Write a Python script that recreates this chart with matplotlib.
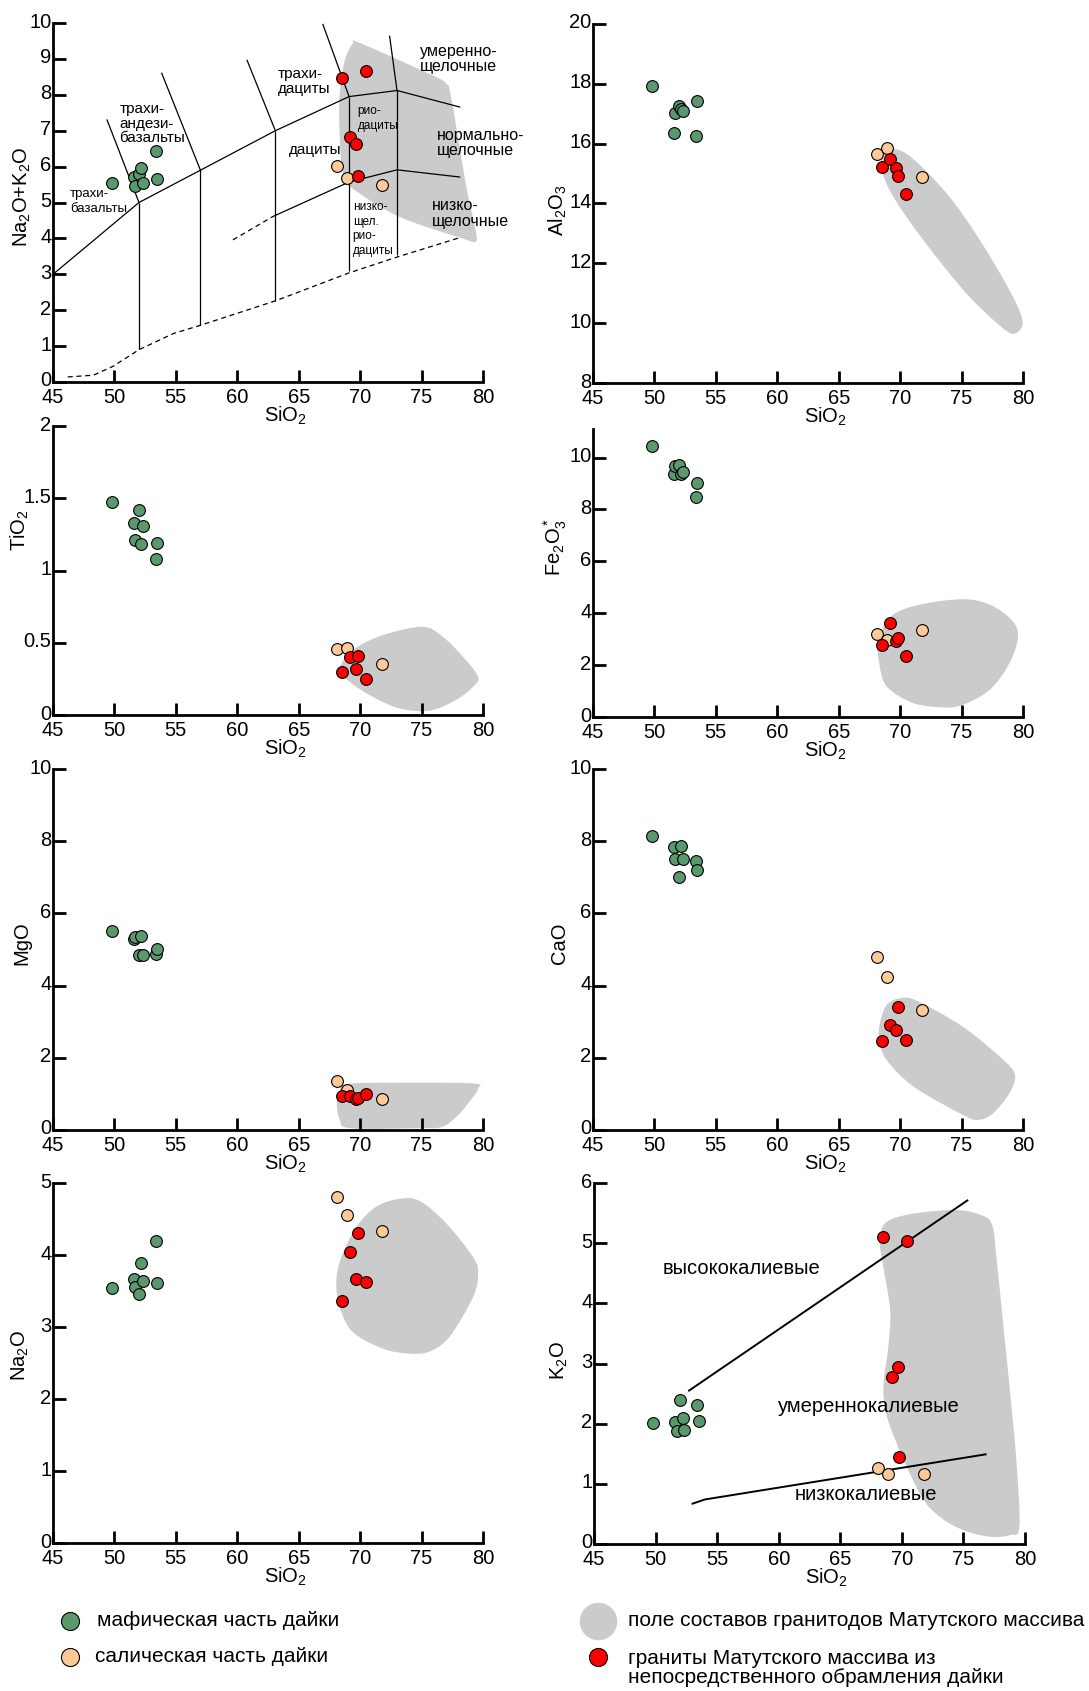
import numpy as np
import matplotlib
matplotlib.use('Agg')
import matplotlib.pyplot as plt
from matplotlib.path import Path
from matplotlib.patches import PathPatch
from matplotlib.ticker import FuncFormatter
from matplotlib.transforms import ScaledTranslation

plt.rcParams['font.family'] = ['Liberation Sans', 'DejaVu Sans']
plt.rcParams['mathtext.default'] = 'regular'

# --- samples (SiO2 on x) ---
mafic_sio2 = [49.8, 51.6, 51.7, 52.0, 52.2, 52.3, 53.35, 53.5]
salic_sio2 = [68.1, 68.9, 71.8]
granite_sio2 = [68.5, 69.2, 69.65, 69.8, 70.45]

mafic_alk = [5.53, 5.71, 5.45, 5.78, 5.96, 5.55, 6.43, 5.65]
salic_alk = [6.02, 5.67, 5.48]
granite_alk = [8.46, 6.82, 6.62, 5.74, 8.65]

mafic_al2o3 = [17.93, 16.35, 17.04, 17.26, 17.15, 17.10, 16.24, 17.43]
salic_al2o3 = [15.64, 15.84, 14.89]
granite_al2o3 = [15.22, 15.49, 15.20, 14.93, 14.31]

mafic_tio2 = [1.475, 1.33, 1.21, 1.42, 1.18, 1.31, 1.08, 1.19]
salic_tio2 = [0.456, 0.463, 0.353]
granite_tio2 = [0.30, 0.40, 0.32, 0.41, 0.25]

mafic_fe2o3 = [10.45, 9.35, 9.69, 9.72, 9.37, 9.46, 8.49, 9.01]
salic_fe2o3 = [3.20, 2.95, 3.34]
granite_fe2o3 = [2.79, 3.63, 2.91, 3.04, 2.37]

mafic_mgo = [5.51, 5.28, 5.34, 4.85, 5.37, 4.86, 4.88, 5.02]
salic_mgo = [1.36, 1.11, 0.87]
granite_mgo = [0.94, 0.95, 0.85, 0.90, 0.99]

mafic_cao = [8.14, 7.84, 7.52, 7.02, 7.86, 7.52, 7.45, 7.21]
salic_cao = [4.78, 4.24, 3.32]
granite_cao = [2.47, 2.91, 2.77, 3.40, 2.50]

mafic_na2o = [3.54, 3.66, 3.55, 3.46, 3.89, 3.64, 4.20, 3.61]
salic_na2o = [4.81, 4.56, 4.34]
granite_na2o = [3.36, 4.04, 3.67, 4.30, 3.62]

mafic_k2o = [2.01, 2.03, 1.88, 2.40, 2.09, 1.90, 2.31, 2.05]
salic_k2o = [1.27, 1.16, 1.17]
granite_k2o = [5.10, 2.78, 2.94, 1.44, 5.03]

# --- outline of the Matut massif field in each diagram ---
field_tas = ([69.4, 70.0, 75.9, 77.0, 77.4, 78.6, 79.45, 79.3, 78.4, 73.2, 69.4, 68.6, 68.33, 68.33, 68.75],
             [9.42, 9.44, 8.54, 8.31, 7.94, 5.52, 4.13, 3.90, 3.99, 4.60, 5.39, 5.80, 6.92, 8.03, 8.96])
field_al2o3 = ([68.63, 70.5, 73.8, 76.5, 78.9, 79.95, 79.45, 78.4, 75.4, 71.9, 69.45, 68.5, 68.5],
               [15.78, 15.67, 14.33, 12.77, 11.1, 10.1, 9.67, 9.82, 10.99, 12.77, 14.22, 15.1, 15.56])
field_tio2 = ([68.33, 69.42, 71.86, 75.1, 76.75, 78.4, 79.6, 79.2, 77.8, 75.65, 73.2, 71.0, 69.15],
              [0.32, 0.45, 0.553, 0.61, 0.54, 0.40, 0.265, 0.196, 0.104, 0.03, 0.046, 0.127, 0.23])
field_fe2o3 = ([69.3, 71.6, 75.1, 77.3, 79.05, 79.6, 78.9, 77.3, 75.1, 73.5, 71.05, 68.9, 68.3, 68.25],
               [3.9, 4.33, 4.54, 4.33, 3.75, 3.11, 2.08, 1.05, 0.47, 0.37, 0.54, 1.18, 2.08, 3.0])
field_mgo = ([68.9, 73.2, 79.2, 79.6, 79.2, 78.1, 76.7, 74.6, 69.2, 68.35, 68.1, 68.35],
             [1.27, 1.31, 1.29, 1.15, 0.92, 0.46, 0.09, 0.05, 0.05, 0.28, 0.74, 1.02])
field_cao = ([68.9, 70.0, 71.35, 75.1, 78.4, 79.35, 78.9, 77.55, 76.35, 75.1, 71.1, 68.9, 68.3, 68.35],
             [3.46, 3.65, 3.58, 2.86, 1.94, 1.52, 1.02, 0.46, 0.28, 0.42, 1.20, 1.94, 2.49, 2.95])
field_na2o = ([68.06, 68.47, 69.7, 71.3, 73.2, 74.85, 77.0, 79.2, 79.6, 79.2, 77.3, 75.65, 74.0, 71.85, 69.4, 68.33],
              [3.63, 3.97, 4.39, 4.67, 4.78, 4.75, 4.44, 3.97, 3.74, 3.42, 2.87, 2.66, 2.63, 2.70, 2.93, 3.28])
field_k2o = ([68.2, 68.75, 70.9, 74.2, 76.1, 77.3, 77.7, 78.25, 78.8, 79.3, 79.55, 78.8, 77.15, 75.0, 73.1, 71.45, 69.05, 68.5, 68.9, 69.05, 68.5],
             [5.05, 5.35, 5.49, 5.55, 5.49, 5.32, 4.72, 3.61, 2.50, 1.39, 0.29, 0.15, 0.12, 0.23, 0.45, 0.84, 1.95, 2.56, 3.28, 3.88, 4.60])

# --- TAS classification lines ---
tas_upper_x = [45, 52, 57, 63.1, 69.1, 73, 78.1]
tas_upper_y = [3.0, 5.0, 5.9, 7.0, 7.95, 8.12, 7.66]
tas_top_x = [(52, 49.4), (57, 53.85), (63.1, 60.8), (69.1, 66.97), (73, 72.4)]
tas_top_y = [(5.0, 7.3), (5.9, 8.6), (7.0, 8.96), (7.95, 9.96), (8.12, 9.63)]
tas_vert_x = [52, 57, 63.1, 69.1, 73]
tas_vert_top = [5.0, 5.9, 7.0, 7.95, 8.12]
tas_vert_bot = [0.93, 1.58, 2.27, 3.1, 3.55]
tas_lower_x = [62.9, 69.1, 73, 78.1]
tas_lower_y = [4.61, 5.57, 5.91, 5.71]
tas_lower_dash_x = [59.65, 62.9]
tas_lower_dash_y = [3.96, 4.61]
tas_bottom_x = [46.2, 48.3, 49.9, 52.0, 54.8, 57.0, 63.1, 69.1, 73.0, 78.1]
tas_bottom_y = [0.14, 0.19, 0.44, 0.90, 1.35, 1.58, 2.26, 3.04, 3.48, 4.02]

k2o_high_x = [52.72, 75.32]
k2o_high_y = [2.55, 5.71]
k2o_low_x = [53.0, 54.0, 76.8]
k2o_low_y = [0.67, 0.74, 1.49]

GREEN = '#5a986d'
PEACH = '#fdca97'
RED = '#ff0000'
GREY = '#cbcbcb'

W, H = 1089, 1691
fig = plt.figure(figsize=(W / 100, H / 100), dpi=100)


def smooth_field(xs, ys):
    pts = np.column_stack([xs, ys])
    n = len(pts)
    verts = [pts[0]]
    codes = [Path.MOVETO]
    for i in range(n):
        p0, p1, p2, p3 = pts[i - 1], pts[i], pts[(i + 1) % n], pts[(i + 2) % n]
        verts += [p1 + (p2 - p0) / 6, p2 - (p3 - p1) / 6, p2]
        codes += [Path.CURVE4] * 3
    return PathPatch(Path(verts, codes), facecolor=GREY, edgecolor='none', zorder=1)


def make_axes(l, t, r, b):
    return fig.add_axes([l / W, 1 - b / H, (r - l) / W, (b - t) / H])


def panel(box, ylabel, ylim, yticks, field, ys, ylab_y, ylab_dx):
    ax = make_axes(*box)
    ax.add_patch(smooth_field(*field))
    ax.scatter(mafic_sio2, ys[0], s=72, c=GREEN, edgecolors='black', linewidths=0.8, zorder=5)
    ax.scatter(salic_sio2, ys[1], s=72, c=PEACH, edgecolors='black', linewidths=0.8, zorder=5)
    ax.scatter(granite_sio2, ys[2], s=72, c=RED, edgecolors='black', linewidths=0.8, zorder=6)
    ax.set_xlim(45, 80)
    ax.set_ylim(*ylim)
    ax.set_xticks(range(45, 81, 5))
    ax.set_yticks(yticks)
    ax.yaxis.set_major_formatter(FuncFormatter(lambda v, p: '%g' % v))
    for s in ['top', 'right']:
        ax.spines[s].set_visible(False)
    for s in ['left', 'bottom']:
        ax.spines[s].set_linewidth(2)
    ax.tick_params(direction='in', length=9, width=2, labelsize=14.5)
    ax.tick_params(axis='x', pad=4)
    ax.tick_params(axis='y', pad=1)
    # y tick labels sit a little above their ticks, as in the source figure
    for lab in ax.get_yticklabels():
        lab.set_transform(lab.get_transform() + ScaledTranslation(0, 3 / 100, fig.dpi_scale_trans))
    ax.set_facecolor('none')
    ax.set_ylabel(ylabel, fontsize=14.5)
    ax.yaxis.set_label_coords(-ylab_dx / 430, ylab_y)
    ax.set_xlabel('SiO$_2$', fontsize=14.5)
    ax.xaxis.set_label_coords(0.54, -23 / (box[3] - box[1]))
    return ax


# TAS
ax = panel((53, 23, 483, 382), 'Na$_2$O+K$_2$O', (0, 10), range(0, 11), field_tas,
           (mafic_alk, salic_alk, granite_alk), 0.515, 20)
lw = 0.9
ax.plot(tas_upper_x, tas_upper_y, color='black', lw=lw, zorder=3)
for xs, ys in zip(tas_top_x, tas_top_y):
    ax.plot(xs, ys, color='black', lw=lw, zorder=3)
ax.vlines(tas_vert_x, tas_vert_bot, tas_vert_top, color='black', lw=lw, zorder=3)
ax.plot(tas_lower_x, tas_lower_y, color='black', lw=lw, zorder=3)
ax.plot(tas_lower_dash_x, tas_lower_dash_y, color='black', lw=lw, ls=(0, (4, 3)), zorder=3)
ax.plot(tas_bottom_x, tas_bottom_y, color='black', lw=lw, ls=(0, (4, 3)), zorder=3)
tas_labels = [
    (46.4, 5.03, 'трахи-\nбазальты', 9.5, 1.25),
    (50.4, 7.2, 'трахи-\nандези-\nбазальты', 11, 1.05),
    (63.3, 8.37, 'трахи-\nдациты', 11, 1.1),
    (69.8, 7.34, 'рио-\nдациты', 8.5, 1.3),
    (64.2, 6.45, 'дациты', 11, 1.0),
    (69.4, 4.26, 'низко-\nщел.\nрио-\nдациты', 8.5, 1.3),
    (74.85, 9.0, 'умеренно-\nщелочные', 11.5, 1.05),
    (76.25, 6.66, 'нормально-\nщелочные', 11.5, 1.05),
    (75.87, 4.69, 'низко-\nщелочные', 11.5, 1.05),
]
for x, y, t, fs, lsp in tas_labels:
    ax.text(x, y, t, fontsize=fs, ha='left', va='center', linespacing=lsp, zorder=4)

panel((593, 24, 1023, 383), 'Al$_2$O$_3$', (8, 20), range(8, 21, 2), field_al2o3,
      (mafic_al2o3, salic_al2o3, granite_al2o3), 0.48, 24)
panel((53, 426, 483, 715), 'TiO$_2$', (0, 2), [0, 0.5, 1, 1.5, 2], field_tio2,
      (mafic_tio2, salic_tio2, granite_tio2), 0.64, 22)
panel((593, 429, 1023, 717), 'Fe$_2$O$_3^*$', (0, 11.1), range(0, 11, 2), field_fe2o3,
      (mafic_fe2o3, salic_fe2o3, granite_fe2o3), 0.59, 24)
panel((53, 769, 483, 1130), 'MgO', (0, 10), range(0, 11, 2), field_mgo,
      (mafic_mgo, salic_mgo, granite_mgo), 0.518, 22)
panel((593, 769, 1023, 1130), 'CaO', (0, 10), range(0, 11, 2), field_cao,
      (mafic_cao, salic_cao, granite_cao), 0.518, 24)
panel((53, 1183, 483, 1543), 'Na$_2$O', (0, 5), range(0, 6), field_na2o,
      (mafic_na2o, salic_na2o, granite_na2o), 0.522, 22)
ax = panel((594, 1183, 1025, 1544), 'K$_2$O', (0, 6), range(0, 7), field_k2o,
           (mafic_k2o, salic_k2o, granite_k2o), 0.508, 24)
ax.plot(k2o_high_x, k2o_high_y, color='black', lw=1.4, zorder=3)
ax.plot(k2o_low_x, k2o_low_y, color='black', lw=1.4, zorder=3)
ax.text(50.55, 4.58, 'высококалиевые', fontsize=14.5, va='center')
ax.text(59.96, 2.28, 'умереннокалиевые', fontsize=14.5, va='center')
ax.text(61.31, 0.82, 'низкокалиевые', fontsize=14.5, va='center')

# legend
lg = fig.add_axes([0, 0, 1, 1])
lg.set_xlim(0, W)
lg.set_ylim(H, 0)
lg.axis('off')
lg.patch.set_alpha(0)
lfs = 15
lg.plot([70], [1621], 'o', ms=13, mfc=GREEN, mec='black', mew=0.8)
lg.text(97, 1621, 'мафическая часть дайки', fontsize=lfs, va='center')
lg.plot([70], [1657], 'o', ms=13, mfc=PEACH, mec='black', mew=0.8)
lg.text(95, 1657, 'салическая часть дайки', fontsize=lfs, va='center')
lg.plot([598], [1621], 'o', ms=27, mfc=GREY, mec='none')
lg.text(628, 1621, 'поле составов гранитодов Матутского массива', fontsize=lfs, va='center')
lg.plot([598], [1657], 'o', ms=13, mfc=RED, mec='black', mew=0.8)
lg.text(628, 1668, 'граниты Матутского массива из\nнепосредственного обрамления дайки',
        fontsize=lfs, va='center', linespacing=1.05)

fig.savefig('out.png', dpi=100)
